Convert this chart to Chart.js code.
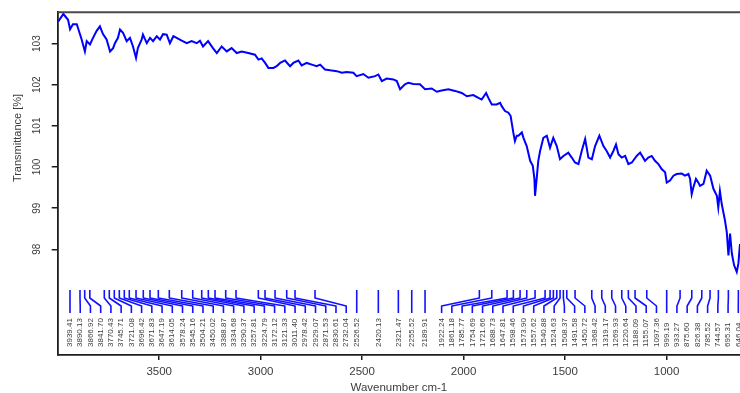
<!DOCTYPE html>
<html>
<head>
<meta charset="utf-8">
<script src="https://cdn.jsdelivr.net/npm/chart.js@4.4.0/dist/chart.umd.min.js"></script>
<style>
  html, body { margin: 0; padding: 0; background: #ffffff; overflow: hidden; }
  #wrap { width: 740px; height: 393px; position: relative; }
</style>
</head>
<body>
<div id="wrap"><canvas id="spectrum" width="740" height="393"></canvas></div>
<script>
// IR spectrum: wavenumber (cm-1) and transmittance (%)
const wavenumbers = [
  3997, 3972, 3949, 3939, 3925, 3906, 3900, 3882, 3866, 3857, 3841, 3826, 3808, 3792, 3777, 3759,
  3742, 3727, 3718, 3703, 3693, 3678, 3660, 3644, 3629, 3614, 3605, 3586, 3580, 3561, 3545, 3530,
  3512, 3496, 3481, 3463, 3447, 3430, 3414, 3389, 3364, 3340, 3315, 3299, 3284, 3259, 3235, 3216,
  3192, 3167, 3143, 3118, 3093, 3061, 3028, 3011, 2995, 2978, 2962, 2937, 2921, 2904, 2880, 2855,
  2839, 2814, 2798, 2773, 2748, 2724, 2707, 2683, 2658, 2625, 2600, 2576, 2543, 2527, 2494, 2469,
  2436, 2420, 2403, 2379, 2346, 2329, 2313, 2289, 2272, 2248, 2215, 2190, 2157, 2132, 2108, 2075,
  2042, 2009, 1984, 1952, 1927, 1911, 1889, 1878, 1861, 1837, 1820, 1812, 1796, 1779, 1768, 1763,
  1755, 1747, 1738, 1730, 1713, 1705, 1689, 1672, 1659, 1651, 1648, 1640, 1632, 1623, 1607, 1590,
  1574, 1558, 1541, 1525, 1508, 1484, 1467, 1451, 1434, 1418, 1401, 1385, 1368, 1352, 1331, 1311,
  1295, 1278, 1262, 1249, 1237, 1221, 1204, 1188, 1171, 1147, 1130, 1106, 1090, 1073, 1057, 1040,
  1024, 1007, 999, 983, 966, 950, 925, 909, 892, 884, 876, 868, 855, 843, 835, 818,
  802, 785, 769, 752, 745, 737, 728, 712, 703, 695, 687, 678, 667, 654, 646, 638
];
const transmittance = [
  103.54, 103.72, 103.58, 103.35, 103.47, 103.47, 103.38, 103.10, 102.81, 103.06, 102.98, 103.14, 103.31, 103.42, 103.23, 103.10,
  102.81, 102.89, 103.01, 103.14, 103.34, 103.26, 103.06, 103.14, 102.93, 102.65, 102.89, 103.10, 103.22, 103.01, 103.14, 103.06,
  103.18, 103.10, 103.23, 103.22, 103.01, 103.18, 103.14, 103.07, 103.01, 103.06, 103.01, 103.07, 102.93, 103.06, 102.89, 102.77,
  102.93, 102.81, 102.89, 102.77, 102.81, 102.77, 102.73, 102.61, 102.64, 102.53, 102.41, 102.41, 102.45, 102.53, 102.59, 102.45,
  102.53, 102.59, 102.47, 102.53, 102.49, 102.45, 102.49, 102.37, 102.35, 102.33, 102.29, 102.31, 102.29, 102.21, 102.26, 102.17,
  102.21, 102.25, 102.09, 102.15, 102.13, 102.09, 101.89, 102.01, 102.05, 102.02, 102.01, 101.89, 101.91, 101.83, 101.86, 101.89,
  101.85, 101.80, 101.72, 101.75, 101.68, 101.64, 101.80, 101.68, 101.52, 101.52, 101.56, 101.48, 101.36, 101.32, 101.24, 101.08,
  100.84, 100.63, 100.76, 100.76, 100.84, 100.71, 100.51, 100.15, 100.03, 99.71, 99.30, 99.71, 100.15, 100.39, 100.71, 100.76,
  100.47, 100.71, 100.51, 100.19, 100.27, 100.35, 100.23, 100.11, 100.07, 100.39, 100.68, 100.23, 100.19, 100.51, 100.76, 100.51,
  100.39, 100.23, 100.39, 100.55, 100.31, 100.23, 100.27, 100.07, 100.11, 100.27, 100.35, 100.15, 100.23, 100.27, 100.15, 100.07,
  99.95, 99.87, 99.62, 99.67, 99.79, 99.83, 99.84, 99.79, 99.83, 99.71, 99.34, 99.50, 99.71, 99.62, 99.54, 99.59,
  99.91, 99.79, 99.47, 99.30, 99.02, 99.42, 99.10, 98.70, 98.41, 97.85, 98.38, 97.89, 97.61, 97.45, 97.65, 98.13
];

// Picked peak positions (cm-1), labelled under the trace
const peakPositions = [
  3939.41, 3890.13, 3866.92, 3841.70, 3770.43, 3745.71, 3721.08, 3696.42, 3671.83, 3647.19,
  3614.05, 3578.24, 3545.16, 3504.21, 3450.02, 3388.87, 3334.68, 3290.37, 3257.81, 3224.79,
  3172.12, 3121.33, 3011.40, 2978.42, 2929.07, 2871.53, 2830.61, 2732.04, 2526.52,
  2420.13, 2321.47, 2255.52, 2189.91,
  1922.24, 1861.18, 1785.77, 1754.69, 1721.66, 1688.73, 1647.81, 1598.46, 1573.90, 1557.62,
  1540.88, 1524.63, 1508.37, 1491.58, 1450.72, 1368.42, 1319.17, 1269.93, 1220.64, 1188.09,
  1155.07, 1097.36, 999.19, 933.27, 875.60, 826.38, 785.52, 744.57, 695.31, 646.04
];

const xTickValues = [3500, 3000, 2500, 2000, 1500, 1000];
const yTickValues = [98, 99, 100, 101, 102, 103];
const xTitle = 'Wavenumber cm-1';
const yTitle = 'Transmittance [%]';

const FONT = '"Liberation Sans", Arial, sans-serif';
const INK = '#3c3c3c';
const AXIS = '#1e1e1e';

// Top edge of the plot frame
const frameTop = {
  id: 'frameTop',
  afterDraw(chart) {
    const { ctx, chartArea: a } = chart;
    ctx.save();
    ctx.strokeStyle = '#4a4a4a';
    ctx.lineWidth = 2;
    ctx.beginPath();
    ctx.moveTo(a.left, a.top);
    ctx.lineTo(a.right, a.top);
    ctx.stroke();
    ctx.restore();
  }
};

// Rotated y axis title
const yAxisTitle = {
  id: 'yAxisTitle',
  afterDraw(chart) {
    const { ctx } = chart;
    ctx.save();
    ctx.translate(18, 138);
    ctx.rotate(-Math.PI / 2);
    ctx.font = '11px ' + FONT;
    ctx.fillStyle = INK;
    ctx.textAlign = 'center';
    ctx.textBaseline = 'middle';
    ctx.fillText(yTitle, 0, 0);
    ctx.restore();
  }
};

// Peak markers: tick at each peak, leader line to a spread-out label slot, vertical label
const peakMarks = {
  id: 'peakMarks',
  afterDatasetsDraw(chart) {
    const { ctx, chartArea: a, scales: { x } } = chart;
    const gap = 10.23;
    const px = peakPositions.map(v => x.getPixelForValue(v));
    const order = px.map((p, i) => i).sort((i, j) => px[i] - px[j]);
    const lx = new Array(px.length);
    let prev = -Infinity;
    order.forEach(i => { lx[i] = Math.max(px[i], prev + gap); prev = lx[i]; });
    let next = a.right - 1.7 + gap;
    for (let k = order.length - 1; k >= 0; k--) {
      const i = order[k];
      lx[i] = Math.min(lx[i], next - gap);
      next = lx[i];
    }
    const yTop = a.bottom - 65, yBend = a.bottom - 57, yJoin = a.bottom - 49, yEnd = a.bottom - 42, yText = a.bottom - 8;
    ctx.save();
    ctx.beginPath();
    ctx.rect(a.left, a.top, a.right - a.left, a.bottom - a.top);
    ctx.clip();
    ctx.strokeStyle = '#1212ff';
    ctx.lineWidth = 1.6;
    ctx.lineJoin = 'round';
    px.forEach((p, i) => {
      ctx.beginPath();
      ctx.moveTo(p, yTop);
      ctx.lineTo(p, yBend);
      ctx.lineTo(lx[i], yJoin);
      ctx.lineTo(lx[i], yEnd);
      ctx.stroke();
    });
    ctx.font = '8px ' + FONT;
    ctx.fillStyle = INK;
    ctx.textAlign = 'left';
    ctx.textBaseline = 'middle';
    peakPositions.forEach((v, i) => {
      ctx.save();
      ctx.translate(lx[i], yText);
      ctx.rotate(-Math.PI / 2);
      ctx.fillText(v.toFixed(2), 0, 0);
      ctx.restore();
    });
    ctx.restore();
  }
};

new Chart(document.getElementById('spectrum'), {
  type: 'line',
  data: {
    datasets: [{
      data: wavenumbers.map((w, i) => ({ x: w, y: transmittance[i] })),
      borderColor: '#0000ff',
      borderWidth: 2,
      pointRadius: 0,
      tension: 0,
      fill: false
    }]
  },
  options: {
    responsive: false,
    devicePixelRatio: 1,
    animation: false,
    layout: { padding: { top: 11, right: 0, bottom: 0, left: 0 } },
    plugins: { legend: { display: false }, tooltip: { enabled: false } },
    scales: {
      x: {
        type: 'linear',
        reverse: true,
        min: 638,
        max: 4000,
        afterBuildTicks: s => { s.ticks = xTickValues.map(v => ({ value: v })); },
        afterFit: s => { s.height = 38; },
        grid: { display: true, drawOnChartArea: false, drawTicks: true, tickLength: 5, color: AXIS, lineWidth: 1.5 },
        border: { display: true, color: AXIS, width: 1.8 },
        ticks: {
          color: INK, padding: 4.8, maxRotation: 0, autoSkip: false,
          font: { family: FONT, size: 11.5 },
          callback: v => String(v)
        },
        title: {
          display: true, text: xTitle, color: INK,
          font: { family: FONT, size: 11.5, lineHeight: 0.82 },
          padding: { top: 0, bottom: 0 }
        }
      },
      y: {
        type: 'linear',
        min: 95.43,
        max: 103.76,
        afterBuildTicks: s => { s.ticks = yTickValues.map(v => ({ value: v })); },
        afterFit: s => { s.width = 57.7; },
        grid: { display: true, drawOnChartArea: false, drawTicks: true, tickLength: 6, color: AXIS, lineWidth: 1.5 },
        border: { display: true, color: AXIS, width: 1.8 },
        ticks: {
          color: INK, padding: 6.35, minRotation: 90, maxRotation: 90, crossAlign: 'center',
          font: { family: FONT, size: 10 },
          callback: v => String(v)
        }
      }
    }
  },
  plugins: [frameTop, yAxisTitle, peakMarks]
});
</script>
</body>
</html>
